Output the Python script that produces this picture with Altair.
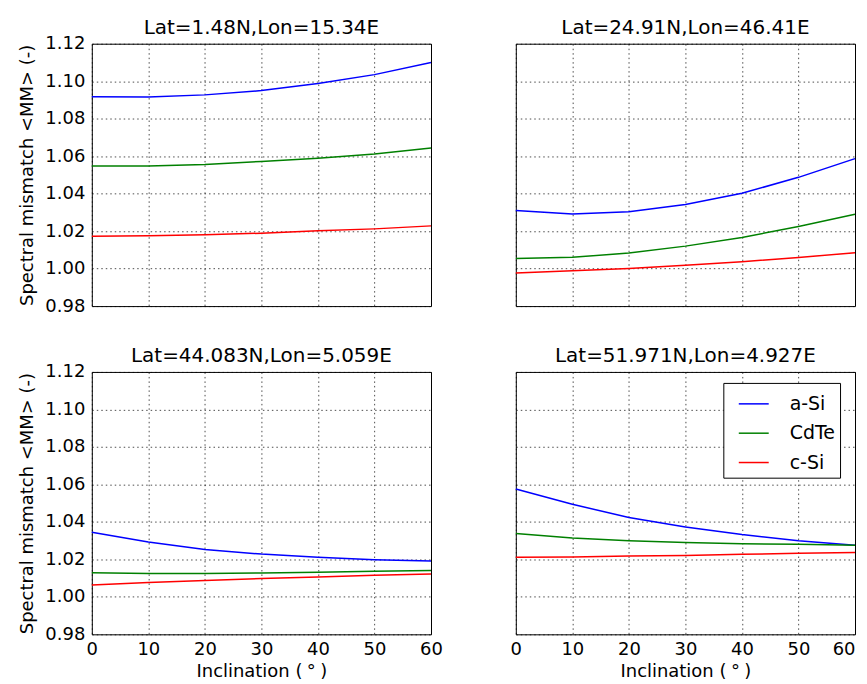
import altair as alt
import pandas as pd

inclination = [0, 10, 20, 30, 40, 50, 60]
titles = [
    "Lat=1.48N,Lon=15.34E",
    "Lat=24.91N,Lon=46.41E",
    "Lat=44.083N,Lon=5.059E",
    "Lat=51.971N,Lon=4.927E",
]
series = ["a-Si", "CdTe", "c-Si"]
colors = ["#0000ff", "#008000", "#ff0000"]
y_ticks = [0.98, 1.00, 1.02, 1.04, 1.06, 1.08, 1.10, 1.12]
x_ticks = [0, 10, 20, 30, 40, 50, 60]
x_title = "Inclination (\u2005°\u2005)"

p1_asi = [1.0917, 1.0915, 1.0927, 1.0950, 1.0988, 1.1035, 1.1100]
p1_cdte = [1.0547, 1.0547, 1.0556, 1.0572, 1.0589, 1.0612, 1.0644]
p1_csi = [1.0173, 1.0175, 1.0180, 1.0189, 1.0202, 1.0212, 1.0228]
p2_asi = [1.0310, 1.0292, 1.0303, 1.0342, 1.0402, 1.0487, 1.0587]
p2_cdte = [1.0054, 1.0060, 1.0083, 1.0120, 1.0166, 1.0225, 1.0290]
p2_csi = [0.9977, 0.9988, 1.0000, 1.0018, 1.0037, 1.0059, 1.0085]
p3_asi = [1.0345, 1.0292, 1.0253, 1.0228, 1.0211, 1.0198, 1.0191]
p3_cdte = [1.0129, 1.0124, 1.0124, 1.0127, 1.0131, 1.0136, 1.0140]
p3_csi = [1.0063, 1.0076, 1.0087, 1.0098, 1.0106, 1.0115, 1.0122]
p4_asi = [1.0575, 1.0494, 1.0423, 1.0373, 1.0332, 1.0299, 1.0275]
p4_cdte = [1.0338, 1.0314, 1.0299, 1.0290, 1.0283, 1.0280, 1.0275]
p4_csi = [1.0211, 1.0212, 1.0218, 1.0221, 1.0227, 1.0232, 1.0237]

panels = [
    [p1_asi, p1_cdte, p1_csi],
    [p2_asi, p2_cdte, p2_csi],
    [p3_asi, p3_cdte, p3_csi],
    [p4_asi, p4_cdte, p4_csi],
]
ytitles = ["Spectral mismatch <MM>  (-)", None, "Spectral mismatch <MM> (-)", None]
FONT = "DejaVu Sans"
W, H = 340, 263


def make_panel(i):
    rows = []
    for s, vals in zip(series, panels[i]):
        for x, v in zip(inclination, vals):
            rows.append({"inc": x, "mm": v, "series": s})
    df = pd.DataFrame(rows)
    show_x = i >= 2
    show_y = i % 2 == 0
    xaxis_kwargs = dict(
        values=x_ticks, labels=show_x, ticks=False, labelFlush=False,
        title=x_title if show_x else None, labelPadding=6, titlePadding=4,
    )
    if i == 3:
        xaxis_kwargs["labelAlign"] = {
            "condition": {"test": "datum.value == 60", "value": "right"},
            "value": "center",
        }
    xaxis = alt.Axis(**xaxis_kwargs)
    yaxis = alt.Axis(
        values=y_ticks, labels=show_y, ticks=False, format=".2f", labelPadding=7,
        title=ytitles[i] if show_y else None,
    )
    if i == 3:
        legend = alt.Legend(
            title=None, orient="none", legendX=208, legendY=11, symbolType="stroke",
            symbolSize=900, symbolStrokeWidth=1.5, labelFontSize=19, labelOffset=20,
            strokeColor="black", fillColor="white", padding=5, symbolOffset=9.5,
            rowPadding=3.4, labelFont=FONT, cornerRadius=0,
        )
    else:
        legend = None
    title_kwargs = dict(fontSize=20, fontWeight="normal", font=FONT, offset=6, frame="group")
    if show_y:
        title_kwargs["dy"] = 9
    return (
        alt.Chart(df, title=alt.TitleParams(titles[i], **title_kwargs))
        .mark_line(strokeWidth=1.5)
        .encode(
            x=alt.X("inc:Q", scale=alt.Scale(domain=[0, 60], nice=False), axis=xaxis),
            y=alt.Y("mm:Q", scale=alt.Scale(domain=[0.98, 1.12], nice=False, zero=False), axis=yaxis),
            color=alt.Color("series:N", scale=alt.Scale(domain=series, range=colors), legend=legend),
        )
        .properties(width=W, height=H)
    )


chart = (
    alt.concat(*[make_panel(i) for i in range(4)], columns=2, spacing={"row": 29, "column": 66})
    .resolve_scale(color="independent")
    .resolve_legend(color="independent")
    .properties(padding={"left": 10, "top": 8, "right": 0, "bottom": 0})
    .configure(font=FONT)
    .configure_view(stroke="black", strokeWidth=1)
    .configure_axis(
        labelFont=FONT, titleFont=FONT, labelFontSize=18, titleFontSize=18,
        titleFontWeight="normal", labelColor="black", titleColor="black",
        grid=True, gridColor="black", gridDash=[1.5, 3], gridOpacity=0.7, gridWidth=1,
        domain=False, titlePadding=8,
    )
)

chart.save("out.html", embed_options={"renderer": "svg", "actions": False})
